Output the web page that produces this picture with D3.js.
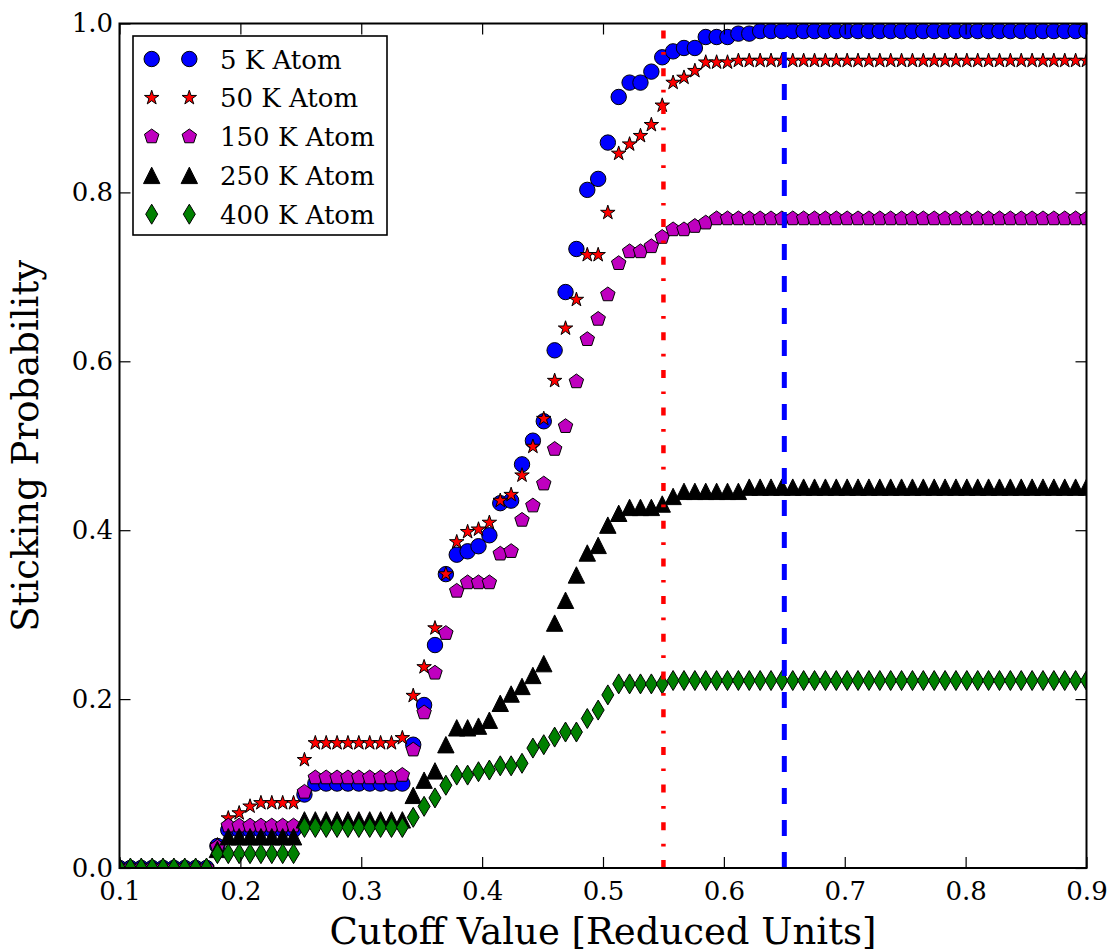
<!DOCTYPE html>
<html>
<head>
<meta charset="utf-8">
<script src="https://cdn.jsdelivr.net/npm/d3@7"></script>
<style>
  html, body { margin: 0; padding: 0; background: #fff; }
  svg { display: block; font-family: "DejaVu Serif", serif; }
</style>
</head>
<body>
<div id="chart"></div>
<script>
// cutoff values (x) shared by every series
const cutoffs = [
  0.100, 0.109, 0.118, 0.127, 0.136, 0.145, 0.154, 0.163, 0.172, 0.181,
  0.190, 0.199, 0.208, 0.217, 0.226, 0.235, 0.244, 0.253, 0.262, 0.271,
  0.280, 0.289, 0.298, 0.307, 0.316, 0.325, 0.334, 0.343, 0.352, 0.361,
  0.370, 0.379, 0.388, 0.397, 0.406, 0.415, 0.424, 0.433, 0.442, 0.451,
  0.460, 0.469, 0.478, 0.487, 0.496, 0.504, 0.513, 0.522, 0.531, 0.540,
  0.549, 0.558, 0.567, 0.576, 0.585, 0.594, 0.603, 0.612, 0.621, 0.630,
  0.639, 0.648, 0.657, 0.666, 0.675, 0.684, 0.693, 0.702, 0.711, 0.720,
  0.729, 0.738, 0.747, 0.756, 0.765, 0.774, 0.783, 0.792, 0.801, 0.810,
  0.819, 0.828, 0.837, 0.846, 0.855, 0.864, 0.873, 0.882, 0.891, 0.900
];

const atom5K = [
  0, 0, 0, 0, 0, 0, 0, 0, 0, 0.026,
  0.045, 0.045, 0.045, 0.045, 0.045, 0.045, 0.045, 0.087, 0.100, 0.100,
  0.100, 0.100, 0.100, 0.100, 0.100, 0.100, 0.100, 0.146, 0.193, 0.264,
  0.348, 0.371, 0.375, 0.381, 0.394, 0.432, 0.435, 0.478, 0.506, 0.529,
  0.613, 0.682, 0.733, 0.803, 0.816, 0.859, 0.913, 0.930, 0.930, 0.943,
  0.960, 0.967, 0.971, 0.971, 0.984, 0.984, 0.984, 0.988, 0.988, 0.991,
  0.991, 0.991, 0.991, 0.991, 0.991, 0.991, 0.991, 0.991, 0.991, 0.991,
  0.991, 0.991, 0.991, 0.991, 0.991, 0.991, 0.991, 0.991, 0.991, 0.991,
  0.991, 0.991, 0.991, 0.991, 0.991, 0.991, 0.991, 0.991, 0.991, 0.991
];

const atom50K = [
  0, 0, 0, 0, 0, 0, 0, 0, 0, 0.027,
  0.059, 0.065, 0.073, 0.077, 0.077, 0.077, 0.077, 0.128, 0.148, 0.148,
  0.148, 0.148, 0.148, 0.148, 0.148, 0.148, 0.154, 0.204, 0.238, 0.284,
  0.348, 0.386, 0.398, 0.401, 0.409, 0.435, 0.442, 0.465, 0.499, 0.532,
  0.577, 0.639, 0.673, 0.726, 0.726, 0.776, 0.846, 0.857, 0.867, 0.880,
  0.903, 0.930, 0.936, 0.944, 0.954, 0.954, 0.954, 0.956, 0.956, 0.956,
  0.956, 0.956, 0.956, 0.956, 0.956, 0.956, 0.956, 0.956, 0.956, 0.956,
  0.956, 0.956, 0.956, 0.956, 0.956, 0.956, 0.956, 0.956, 0.956, 0.956,
  0.956, 0.956, 0.956, 0.956, 0.956, 0.956, 0.956, 0.956, 0.956, 0.956
];

const atom150K = [
  0, 0, 0, 0, 0, 0, 0, 0, 0, 0.025,
  0.050, 0.050, 0.050, 0.050, 0.050, 0.050, 0.050, 0.090, 0.107, 0.107,
  0.107, 0.107, 0.107, 0.107, 0.107, 0.107, 0.110, 0.140, 0.184, 0.231,
  0.278, 0.328, 0.338, 0.338, 0.338, 0.372, 0.375, 0.412, 0.429, 0.455,
  0.496, 0.523, 0.576, 0.626, 0.650, 0.679, 0.716, 0.730, 0.730, 0.736,
  0.747, 0.756, 0.756, 0.760, 0.764, 0.769, 0.769, 0.769, 0.769, 0.769,
  0.769, 0.769, 0.769, 0.769, 0.769, 0.769, 0.769, 0.769, 0.769, 0.769,
  0.769, 0.769, 0.769, 0.769, 0.769, 0.769, 0.769, 0.769, 0.769, 0.769,
  0.769, 0.769, 0.769, 0.769, 0.769, 0.769, 0.769, 0.769, 0.769, 0.769
];

const atom250K = [
  0, 0, 0, 0, 0, 0, 0, 0, 0, 0.022,
  0.037, 0.037, 0.037, 0.037, 0.037, 0.037, 0.037, 0.057, 0.057, 0.057,
  0.057, 0.057, 0.057, 0.057, 0.057, 0.057, 0.057, 0.086, 0.104, 0.115,
  0.146, 0.166, 0.166, 0.168, 0.175, 0.195, 0.206, 0.215, 0.228, 0.242,
  0.290, 0.317, 0.347, 0.373, 0.382, 0.406, 0.420, 0.427, 0.427, 0.427,
  0.431, 0.440, 0.446, 0.446, 0.446, 0.446, 0.446, 0.446, 0.451, 0.451,
  0.451, 0.451, 0.451, 0.451, 0.451, 0.451, 0.451, 0.451, 0.451, 0.451,
  0.451, 0.451, 0.451, 0.451, 0.451, 0.451, 0.451, 0.451, 0.451, 0.451,
  0.451, 0.451, 0.451, 0.451, 0.451, 0.451, 0.451, 0.451, 0.451, 0.451
];

const atom400K = [
  0, 0, 0, 0, 0, 0, 0, 0, 0, 0.017,
  0.017, 0.017, 0.017, 0.017, 0.017, 0.017, 0.017, 0.048, 0.048, 0.048,
  0.048, 0.048, 0.048, 0.048, 0.048, 0.048, 0.048, 0.060, 0.073, 0.083,
  0.098, 0.110, 0.110, 0.114, 0.116, 0.121, 0.121, 0.124, 0.142, 0.146,
  0.155, 0.161, 0.161, 0.177, 0.187, 0.205, 0.218, 0.218, 0.218, 0.218,
  0.218, 0.222, 0.222, 0.222, 0.222, 0.222, 0.222, 0.222, 0.222, 0.222,
  0.222, 0.222, 0.222, 0.222, 0.222, 0.222, 0.222, 0.222, 0.222, 0.222,
  0.222, 0.222, 0.222, 0.222, 0.222, 0.222, 0.222, 0.222, 0.222, 0.222,
  0.222, 0.222, 0.222, 0.222, 0.222, 0.222, 0.222, 0.222, 0.222, 0.222
];

const seriesLabels = ["5 K Atom", "50 K Atom", "150 K Atom", "250 K Atom", "400 K Atom"];
const xTicks = [0.1, 0.2, 0.3, 0.4, 0.5, 0.6, 0.7, 0.8, 0.9];
const yTicks = [0.0, 0.2, 0.4, 0.6, 0.8, 1.0];
const redCutoff = 0.55;
const blueCutoff = 0.65;

// plot layout
const width = 1117, height = 951;
const margin = {left: 119.5, right: 30.5, top: 23.5, bottom: 83};
const x = d3.scaleLinear().domain([0.1, 0.9]).range([margin.left, width - margin.right]);
const y = d3.scaleLinear().domain([0, 1]).range([height - margin.bottom, margin.top]);

// marker path builders (centered on 0,0)
function polygon(pts) {
  return "M" + pts.map(p => p[0].toFixed(2) + "," + p[1].toFixed(2)).join("L") + "Z";
}
function regular(n, r, rInner) {
  const pts = [];
  const k = rInner ? 2 * n : n;
  for (let i = 0; i < k; i++) {
    const a = -Math.PI / 2 + i * Math.PI * 2 / k;
    const rr = rInner && i % 2 ? rInner : r;
    pts.push([rr * Math.cos(a), rr * Math.sin(a)]);
  }
  return polygon(pts);
}
const shapes = {
  circle: d3.arc()({innerRadius: 0, outerRadius: 7.7, startAngle: 0, endAngle: 2 * Math.PI}),
  star: regular(5, 7.6, 7.6 * 0.382),
  pentagon: regular(5, 7.6),
  triangle: polygon([[0, -8.2], [-8.2, 8.2], [8.2, 8.2]]),
  diamond: polygon([[0, -10], [6, 0], [0, 10], [-6, 0]])
};

const series = [
  {label: seriesLabels[0], values: atom5K, color: "#0000ff", shape: "circle"},
  {label: seriesLabels[1], values: atom50K, color: "#ff0000", shape: "star"},
  {label: seriesLabels[2], values: atom150K, color: "#bf00bf", shape: "pentagon"},
  {label: seriesLabels[3], values: atom250K, color: "#000000", shape: "triangle"},
  {label: seriesLabels[4], values: atom400K, color: "#008000", shape: "diamond"}
];

const svg = d3.select("#chart").append("svg")
  .attr("width", width)
  .attr("height", height);

svg.append("defs").append("clipPath").attr("id", "plot-clip")
  .append("rect")
  .attr("x", x(0.1)).attr("y", y(1))
  .attr("width", x(0.9) - x(0.1)).attr("height", y(0) - y(1));

// markers, drawn in legend order so later series sit on top
const plot = svg.append("g").attr("clip-path", "url(#plot-clip)");
series.forEach(s => {
  plot.append("g")
    .selectAll("path")
    .data(s.values.map((v, i) => [cutoffs[i], v]))
    .join("path")
    .attr("d", shapes[s.shape])
    .attr("transform", d => `translate(${x(d[0])},${y(d[1])})`)
    .attr("fill", s.color)
    .attr("stroke", "#000")
    .attr("stroke-width", 1);
});

// vertical cutoff markers, path runs bottom to top so dashes start at the axis
svg.append("line")
  .attr("x1", x(redCutoff)).attr("x2", x(redCutoff))
  .attr("y1", y(0)).attr("y2", y(1))
  .attr("stroke", "#ff0000").attr("stroke-width", 4.5)
  .attr("stroke-dasharray", "8,13.5,2.7,13.5");
svg.append("line")
  .attr("x1", x(blueCutoff)).attr("x2", x(blueCutoff))
  .attr("y1", y(0)).attr("y2", y(1))
  .attr("stroke", "#0000ff").attr("stroke-width", 5)
  .attr("stroke-dasharray", "16,16");

// axes: ticks point inward on all four sides
const tickLen = 11;
const fmt = d3.format(".1f");
const bottom = svg.append("g")
  .attr("transform", `translate(0,${y(0)})`)
  .call(d3.axisBottom(x).tickValues(xTicks).tickFormat(fmt).tickSize(-tickLen).tickPadding(13.5));
const left = svg.append("g")
  .attr("transform", `translate(${x(0.1)},0)`)
  .call(d3.axisLeft(y).tickValues(yTicks).tickFormat(fmt).tickSize(-tickLen).tickPadding(6.5));
svg.append("g")
  .attr("transform", `translate(0,${y(1)})`)
  .call(d3.axisTop(x).tickValues(xTicks).tickFormat("").tickSize(-tickLen));
svg.append("g")
  .attr("transform", `translate(${x(0.9)},0)`)
  .call(d3.axisRight(y).tickValues(yTicks).tickFormat("").tickSize(-tickLen));

svg.selectAll(".domain").remove();
svg.selectAll(".tick line").attr("stroke", "#000").attr("stroke-width", 1.2);
svg.selectAll(".tick text")
  .attr("fill", "#000")
  .style("font-family", "DejaVu Serif")
  .style("font-size", "26px");

// frame
svg.append("rect")
  .attr("x", x(0.1)).attr("y", y(1))
  .attr("width", x(0.9) - x(0.1)).attr("height", y(0) - y(1))
  .attr("fill", "none").attr("stroke", "#000").attr("stroke-width", 2);

// axis titles
svg.append("text")
  .attr("x", (x(0.1) + x(0.9)) / 2).attr("y", 944)
  .attr("text-anchor", "middle")
  .style("font-size", "37px")
  .text("Cutoff Value [Reduced Units]");
svg.append("text")
  .attr("transform", `translate(38,${(y(0) + y(1)) / 2}) rotate(-90)`)
  .attr("text-anchor", "middle")
  .style("font-size", "37px")
  .text("Sticking Probability");

// legend with two sample markers per entry
const legend = svg.append("g");
legend.append("rect")
  .attr("x", 133).attr("y", 36).attr("width", 254).attr("height", 199)
  .attr("fill", "#fff").attr("stroke", "#000").attr("stroke-width", 1.6);
series.forEach((s, i) => {
  const cy = 59 + i * 38.8;
  [151.7, 189.3].forEach(cx => {
    legend.append("path")
      .attr("d", shapes[s.shape])
      .attr("transform", `translate(${cx},${cy})`)
      .attr("fill", s.color).attr("stroke", "#000").attr("stroke-width", 1);
  });
  legend.append("text")
    .attr("x", 220).attr("y", cy + 9.5)
    .style("font-size", "26px")
    .text(s.label);
});
</script>
</body>
</html>
